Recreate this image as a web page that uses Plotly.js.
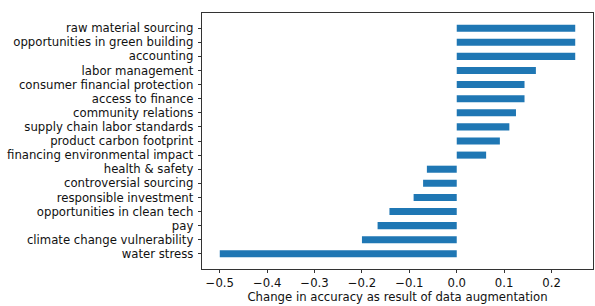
<!DOCTYPE html>
<html>
<head>
<meta charset="utf-8">
<script src="https://cdn.plot.ly/plotly-3.0.1.min.js"></script>
<style>html,body{margin:0;padding:0;background:#fff;}#chart{width:595px;height:306px;}</style>
</head>
<body>
<div id="chart"></div>
<script>
// categories listed bottom to top
const categories = [
  "water stress",
  "climate change vulnerability",
  "pay",
  "opportunities in clean tech",
  "responsible investment",
  "controversial sourcing",
  "health & safety",
  "financing environmental impact",
  "product carbon footprint",
  "supply chain labor standards",
  "community relations",
  "access to finance",
  "consumer financial protection",
  "labor management",
  "accounting",
  "opportunities in green building",
  "raw material sourcing"
];
const values = [
  -0.50, -0.20, -0.167, -0.142, -0.091, -0.071, -0.063,
  0.062, 0.091, 0.111, 0.125, 0.143, 0.143, 0.167,
  0.25, 0.25, 0.25
];
const xTickVals = [-0.5, -0.4, -0.3, -0.2, -0.1, 0.0, 0.1, 0.2];
const xTitle = "Change in accuracy as result of data augmentation";

const font = {family: "DejaVu Sans", size: 11.7, color: "#111"};
Plotly.newPlot("chart", [{
  type: "bar",
  orientation: "h",
  y: categories,
  x: values,
  width: 0.5,
  marker: {color: "#1f77b4", line: {width: 0}},
  hoverinfo: "skip"
}], {
  width: 595, height: 306,
  margin: {l: 202, r: 2, t: 13, b: 37, pad: 0},
  paper_bgcolor: "#fff", plot_bgcolor: "#fff",
  font: font,
  showlegend: false,
  xaxis: {
    range: [-0.5375, 0.2875],
    tickvals: xTickVals,
    tickformat: ".1f",
    ticks: "outside", ticklen: 3.5, tickwidth: 0.8, tickcolor: "#000",
    showline: true, linecolor: "#000", linewidth: 0.8, mirror: true,
    showgrid: false, zeroline: false,
    tickfont: font,
    title: {text: xTitle, font: font, standoff: 1}
  },
  yaxis: {
    type: "category",
    range: [-1.075, categories.length - 1 + 1.075],
    ticks: "outside", ticklen: 3.5, tickwidth: 0.8, tickcolor: "#000",
    ticklabelstandoff: 2,
    showline: true, linecolor: "#000", linewidth: 0.8, mirror: true,
    showgrid: false, zeroline: false,
    tickfont: font
  }
}, {staticPlot: true, displayModeBar: false});
</script>
</body>
</html>
